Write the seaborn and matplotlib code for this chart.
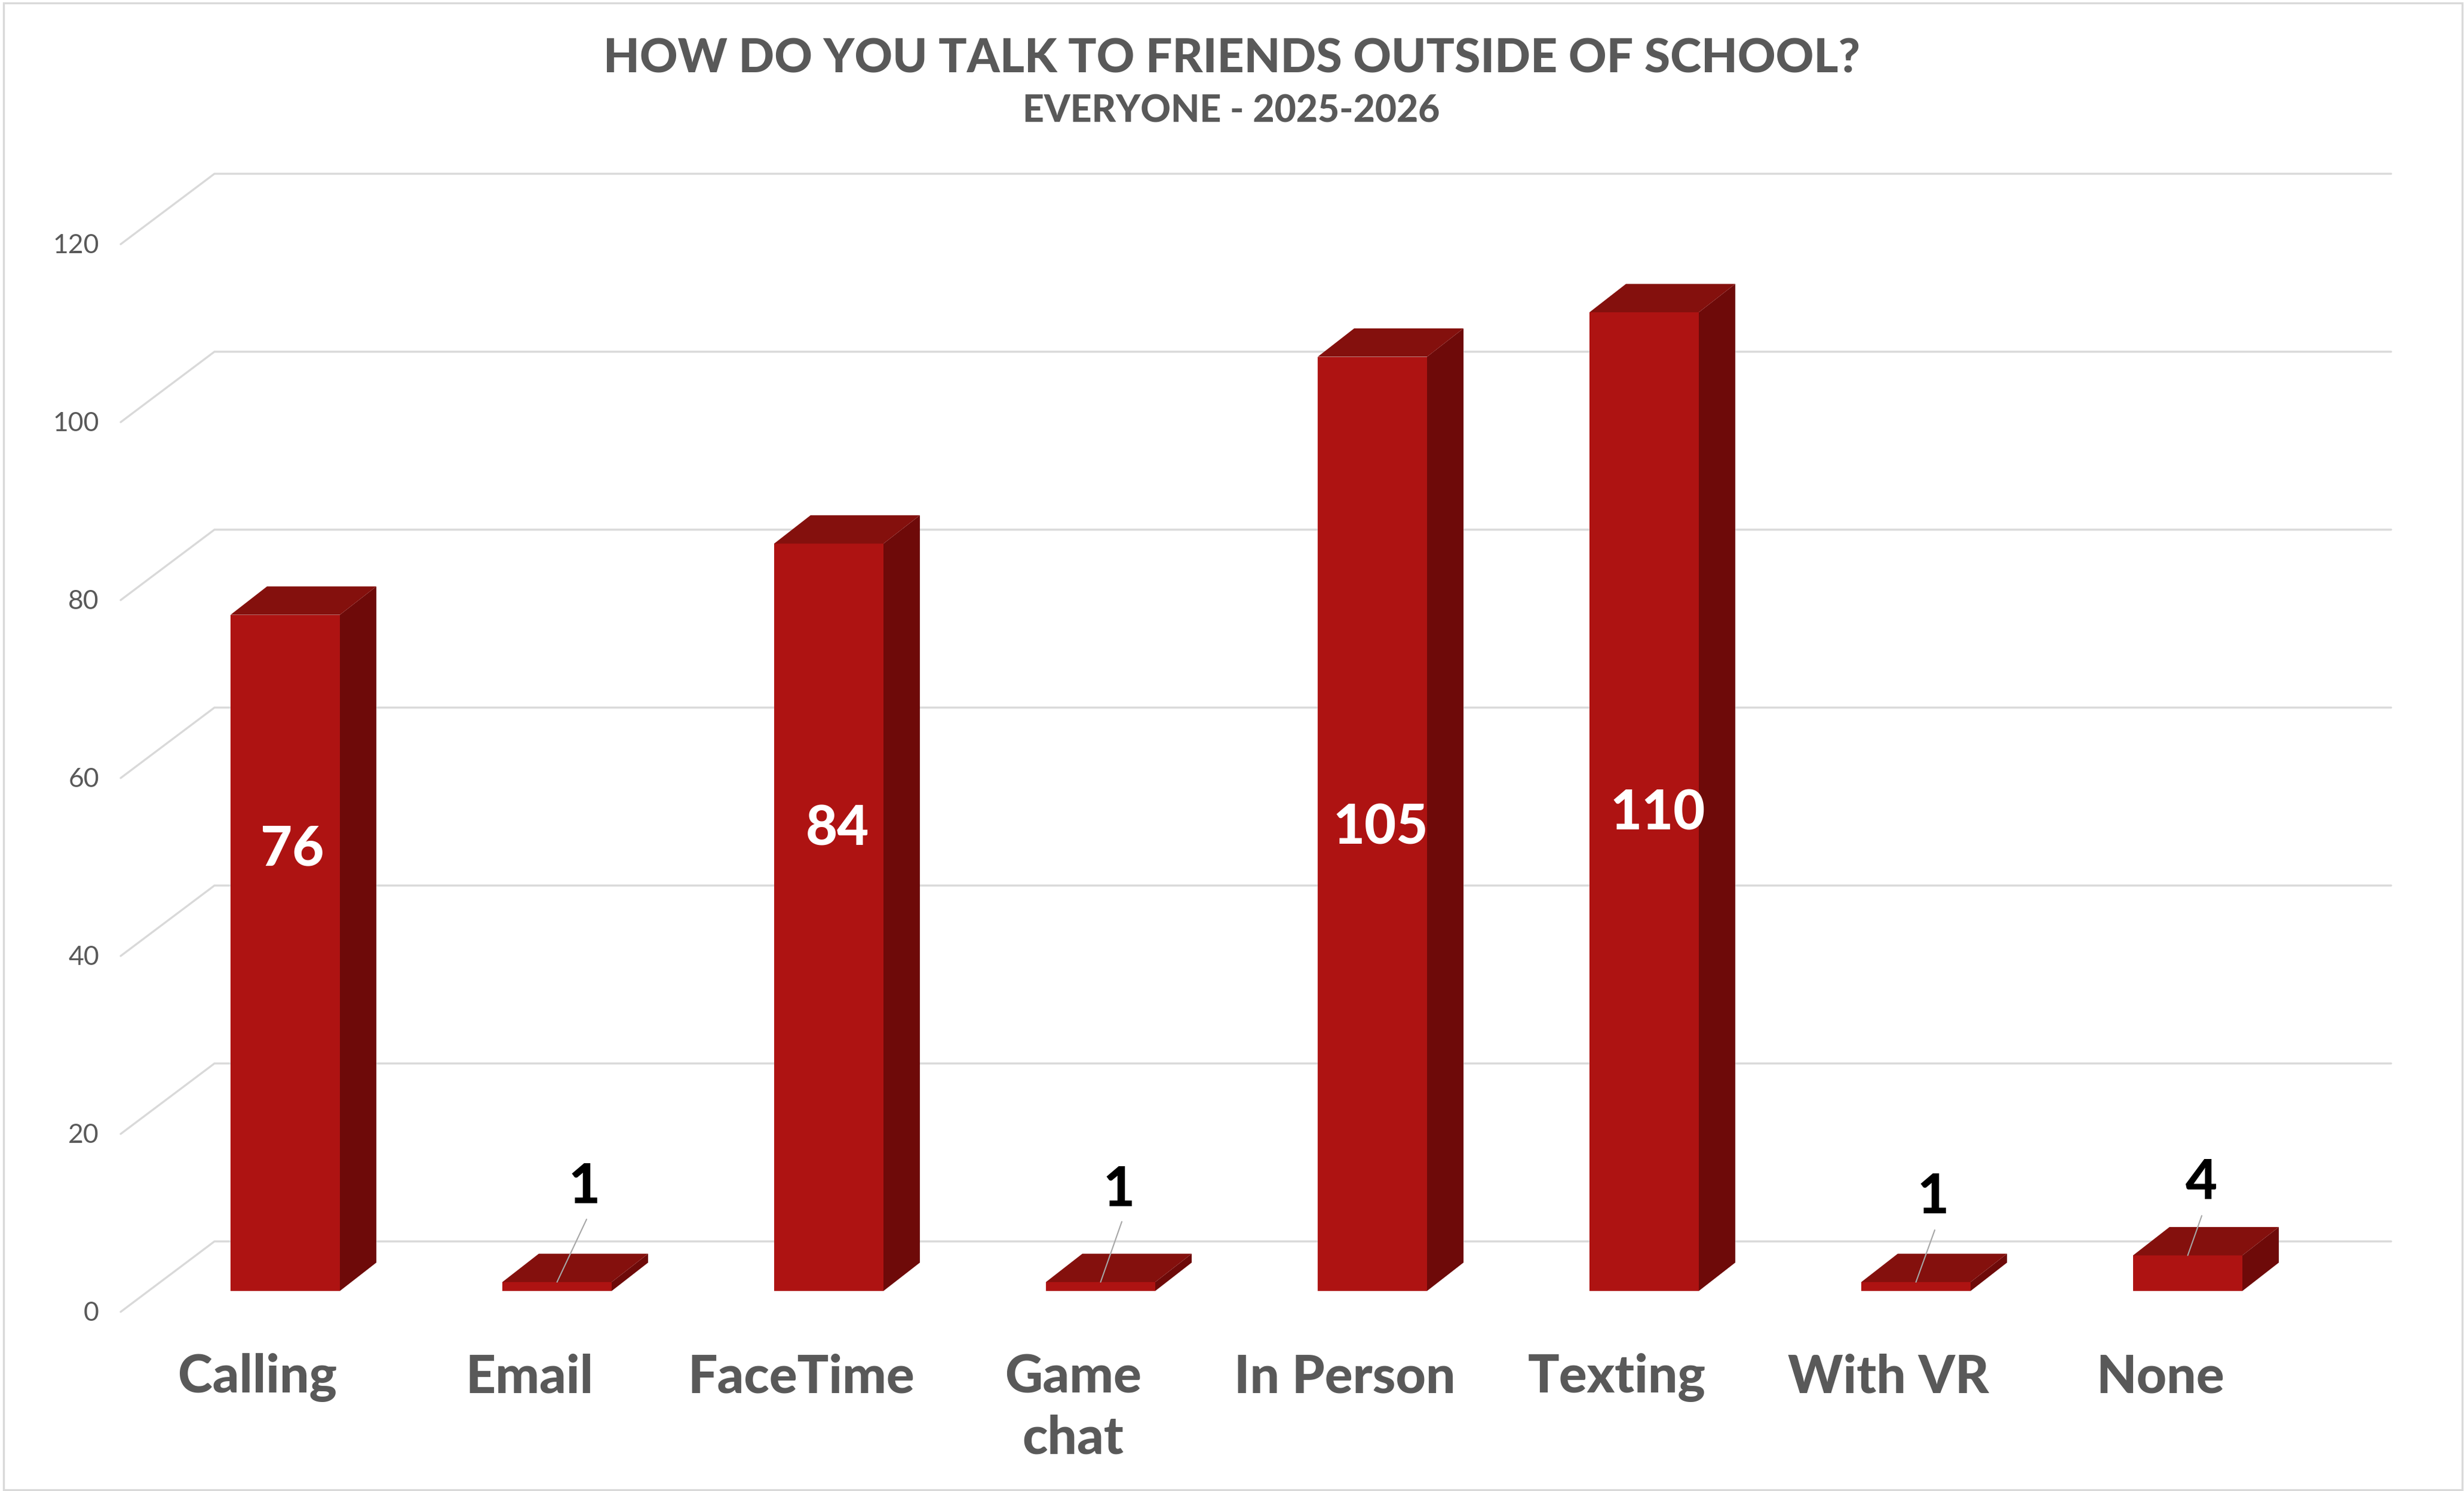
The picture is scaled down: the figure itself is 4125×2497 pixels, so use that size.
import matplotlib
matplotlib.use("Agg")
import matplotlib.pyplot as plt
from matplotlib.patches import Polygon, Rectangle
from matplotlib.transforms import ScaledTranslation
import seaborn as sns

categories = ["Calling", "Email", "FaceTime", "Game chat", "In Person", "Texting", "With VR", "None"]
tick_labels = ["Calling", "Email", "FaceTime", "Game\nchat", "In Person", "Texting", "With VR", "None"]
values = [76, 1, 84, 1, 105, 110, 1, 4]
y_ticks = [0, 20, 40, 60, 80, 100, 120]

W, H, DPI = 4125, 2497, 100
FONT = "Lato"
FRONT, SIDE, TOP = "#AE1312", "#6E0A09", "#84100D"
GREY, GRID = "#595959", "#D9D9D9"

# layout in figure pixels
AX_L, AX_R, FLOOR = 202, 4003, 2162
PX_PER_UNIT = 14.9
CAT0, CAT_STEP = 477.5, 455
BAR_W = 183
BAR_DX, BAR_DY = 61, 47.5
WALL_X, WALL_Y = 359, 2079
WALL_DY = 118
label_px = [(489, 1415), (978, 1981), (1402, 1381), (1873, 1986),
            (2311, 1379), (2775, 1356), (3236, 1998), (3685, 1974)]
leader_px = [None, (982, 2042), None, (1878, 2046), None, None, (3239, 2060), (3686, 2036)]

sns.set_theme(style="white")
plt.rcParams["font.family"] = [FONT, "DejaVu Sans"]

fig = plt.figure(figsize=(W / DPI, H / DPI), dpi=DPI, facecolor="white")
ax = fig.add_axes([AX_L / W, 1 - FLOOR / H, (AX_R - AX_L) / W, 120 * PX_PER_UNIT / H])
ax.patch.set_visible(False)

sns.barplot(x=categories, y=values, color=FRONT, saturation=1, width=BAR_W / CAT_STEP, ax=ax, zorder=3,
            linewidth=0, edgecolor="none")
ax.set_xlim((AX_L - CAT0) / CAT_STEP, (AX_R - CAT0) / CAT_STEP)
ax.set_ylim(0, 120)
sns.despine(ax=ax, left=True, bottom=True)

ux, uy = 1 / CAT_STEP, 1 / PX_PER_UNIT


def data_xy(px, py):
    return (px - CAT0) * ux, (FLOOR - py) * uy


# back wall and side wall gridlines
wall_v = (FLOOR - WALL_Y) * uy
x_wall = (WALL_X - CAT0) * ux
x_end = (AX_R - CAT0) * ux
x_near = (AX_L - CAT0) * ux
for v in y_ticks:
    ax.plot([x_near, x_wall, x_end],
            [v + wall_v - WALL_DY * uy, v + wall_v, v + wall_v],
            color=GRID, lw=2.4, clip_on=False, zorder=1, solid_capstyle="round", solid_joinstyle="miter")

# depth faces from the seaborn bars
dx, dy = BAR_DX * ux, BAR_DY * uy
for p in list(ax.patches):
    x0, w, h = p.get_x(), p.get_width(), p.get_height()
    x1 = x0 + w
    ax.add_patch(Polygon([(x1, 0), (x1 + dx, dy), (x1 + dx, h + dy), (x1, h)],
                         closed=True, fc=SIDE, ec="none", zorder=3, clip_on=False))
    ax.add_patch(Polygon([(x0, h), (x0 + dx, h + dy), (x1 + dx, h + dy), (x1, h)],
                         closed=True, fc=TOP, ec="none", zorder=3, clip_on=False))

# value labels and leaders
for i, v in enumerate(values):
    lx, ly = data_xy(*label_px[i])
    inside = leader_px[i] is None
    ax.text(lx, ly, str(v), ha="center", va="center_baseline", fontsize=66, fontweight=900,
            color="white" if inside else "black", zorder=6)
    if not inside:
        ex, ey = data_xy(*leader_px[i])
        ax.plot([i, ex], [v, ey], color="#A6A6A6", lw=1.5, zorder=5, clip_on=False)

# axes text
ax.set_yticks(y_ticks)
ax.set_yticklabels([str(t) for t in y_ticks], fontsize=32, color=GREY)
ax.tick_params(axis="y", length=0, pad=26)
for lab in ax.get_yticklabels():
    lab.set_transform(lab.get_transform() + ScaledTranslation(0, -34 / DPI, fig.dpi_scale_trans))
ax.set_xticks(range(len(tick_labels)))
ax.set_xticklabels(tick_labels, fontsize=63, fontweight=900, color=GREY, linespacing=1.32)
ax.tick_params(axis="x", length=0, pad=75)
for lab in ax.get_xticklabels():
    lab.set_transform(lab.get_transform() + ScaledTranslation(-46 / DPI, 0, fig.dpi_scale_trans))
ax.set_xlabel("")
ax.set_ylabel("")

fig.text(2062 / W, 1 - 92 / H, "HOW DO YOU TALK TO FRIENDS OUTSIDE OF SCHOOL?", ha="center", va="center_baseline",
         fontsize=56.6, fontweight=900, color=GREY)
fig.text(2061 / W, 1 - 181 / H, "EVERYONE - 2025-2026", ha="center", va="center_baseline",
         fontsize=45, fontweight=900, color=GREY)

fig.add_artist(Rectangle((6 / W, 2 / H), (4122 - 6) / W, (H - 7) / H, transform=fig.transFigure,
                         fc="none", ec=GRID, lw=2.4))

fig.savefig("out.png", dpi=DPI)
